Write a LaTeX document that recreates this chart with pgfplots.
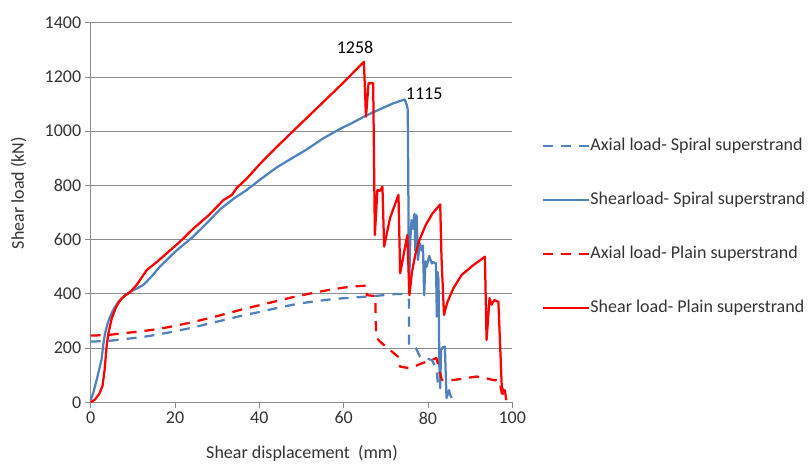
\documentclass[border=0pt]{standalone}
\usepackage{fontspec}
\setmainfont{Carlito}
\usepackage{pgfplots}
\pgfplotsset{compat=1.18}
\definecolor{xlblue}{HTML}{4F81BD}
\definecolor{xlred}{HTML}{FF0000}
\definecolor{xlgrid}{HTML}{8C8C8C}
\definecolor{xltext}{HTML}{333333}
\begin{document}
\begin{tikzpicture}
\path[use as bounding box] (0,0) rectangle (808pt,463pt);
\begin{axis}[
    scale only axis,
    width=421.6pt, height=379.6pt,
    at={(90.7pt,60.7pt)}, anchor=south west,
    xmin=0, xmax=100, ymin=0, ymax=1400,
    xtick={0,20,...,100}, ytick={0,200,...,1400},
    axis x line*=bottom, axis y line*=left,
    axis line style={xlgrid, line width=0.8pt, -},
    ymajorgrids,
    major grid style={xlgrid, line width=0.8pt},
    tick align=outside, major tick length=6pt,
    tick style={xlgrid, line width=0.8pt},
    /pgf/number format/assume math mode=true,
    /pgf/number format/1000 sep=,
    tick label style={font=\fontsize{18}{21}\selectfont, text=xltext},
    xlabel={Shear displacement\ \ (mm)},
    ylabel={Shear load (kN)},
    every axis x label/.style={at={(rel axis cs:0.5012,-0.1336)}, anchor=center, font=\fontsize{18}{21}\selectfont, text=xltext},
    every axis y label/.style={at={(rel axis cs:-0.1713,0.5514)}, anchor=center, rotate=90, font=\fontsize{18}{21}\selectfont, text=xltext},
    legend cell align=left,
    legend image code/.code={\draw[#1] (0pt,0pt) -- (46pt,0pt);},
    legend style={at={(1.0705,0.699)}, anchor=north west, draw=none, fill=none,
        inner sep=0pt, row sep=37pt, font=\fontsize{18}{21}\selectfont, text=xltext,
        nodes={inner sep=0pt, text height=13pt, text depth=4pt},
        /tikz/every even column/.append style={column sep=4pt}},
    clip=false,
]

% Axial load - spiral superstrand
\addplot[xlblue, line width=2.25pt, dash pattern=on 10pt off 8pt, line join=round] coordinates {
(0,224) (4,226) (8,233) (12,240) (16,250) (20,262) (24,275) (28,290) (32,305)
(36,320) (40,333) (44,347) (48,360) (52,370) (56,378) (60,384) (64,388) (68,393)
(72,399) (74.1,400) (74.9,390) (75.5,377) (75.5,211) (77,205) (78.1,168)
(80.9,156) (82,126) (82.4,58)
};
\addlegendentry{Axial load- Spiral superstrand}

% Shear load - spiral superstrand
\addplot[xlblue, line width=2.25pt, line join=round] coordinates {
(0,8) (0.7,40) (1.4,82) (2.0,120) (2.6,160) (3.0,215) (3.4,254) (4.0,290) (4.6,316)
(5.5,345) (6.6,371) (8.0,392) (9.3,408) (11,420) (12.5,433) (14.5,465) (16.4,500)
(20,555) (24.3,611) (28,668) (30.7,712) (34,752) (37,783) (40.5,825) (44.1,866)
(47.5,898) (51.2,932) (55,972) (59.1,1008) (62,1030) (65.5,1059) (68.5,1080)
(71.8,1103) (74.5,1117) (75.0,1095) (75.2,1080) (75.3,880) (75.5,402) (75.8,600)
(76.1,672) (76.4,640) (76.8,695) (77.0,560) (77.3,690) (77.6,525) (78.1,586)
(78.5,560) (78.8,578) (79.1,395) (79.4,520) (79.7,500) (80.3,540) (80.9,512)
(81.3,517) (81.9,512) (82.1,316) (82.3,480) (82.5,451) (82.7,131) (82.9,52)
(83.1,193) (83.6,204) (84.0,205) (84.4,16) (85,45) (85.2,30) (85.6,16)
};
\addlegendentry{Shearload- Spiral superstrand}

% Axial load - plain superstrand
\addplot[xlred, line width=2.25pt, dash pattern=on 10pt off 8pt, line join=round] coordinates {
(0,246) (4,248) (8,255) (12,262) (16,270) (20,282) (24,295) (28,310) (32,326)
(36,343) (40,358) (44,373) (48,388) (52,401) (56,413) (60,423) (63,428) (65.4,430)
(65.5,395) (67.5,392) (67.7,240) (68.6,224) (71,193) (72.9,168) (73.4,131)
(75.7,126) (78.8,145) (82,163) (83.3,82) (86,82) (91.5,95) (93.9,88) (95.5,82)
(97,80) (97.5,33) (98,30)
};
\addlegendentry{Axial load- Plain superstrand}

% Shear load - plain superstrand
\addplot[xlred, line width=2.25pt, line join=round] coordinates {
(0,0) (1,10) (2,30) (2.8,60) (3.3,120) (3.8,210) (4.2,254) (5,310) (6,350) (7,377)
(8.2,395) (9.3,405) (11,435) (13.3,488) (15.5,515) (18,549) (21,590) (24.3,640)
(28,690) (31.5,746) (33.5,765) (34.6,790) (37,825) (40.2,880) (44,940) (48,1000)
(52,1060) (56,1120) (60,1180) (64.8,1256) (65.3,1053) (65.9,1177) (67.0,1177)
(67.4,617) (68,783) (68.6,780) (69.2,795) (69.6,574) (71,680) (73,765) (73.4,476)
(75.1,617) (75.6,395) (76.2,480) (77,545) (78,600) (79.5,655) (81,695) (82.9,730)
(83.2,537) (83.8,322) (84.5,365) (86,420) (88,470) (90.7,505) (93.5,537) (93.9,230)
(94.6,384) (95.1,360) (95.7,377) (96.7,371) (97.5,58) (97.9,40) (98.2,45) (98.6,8)
};
\addlegendentry{Shear load- Plain superstrand}

\node[font=\fontsize{18}{21}\selectfont, text=black] at (axis cs:62.7,1310) {1258};
\node[font=\fontsize{18}{21}\selectfont, text=black] at (axis cs:79.1,1137) {1115};
\end{axis}
\end{tikzpicture}
\end{document}
